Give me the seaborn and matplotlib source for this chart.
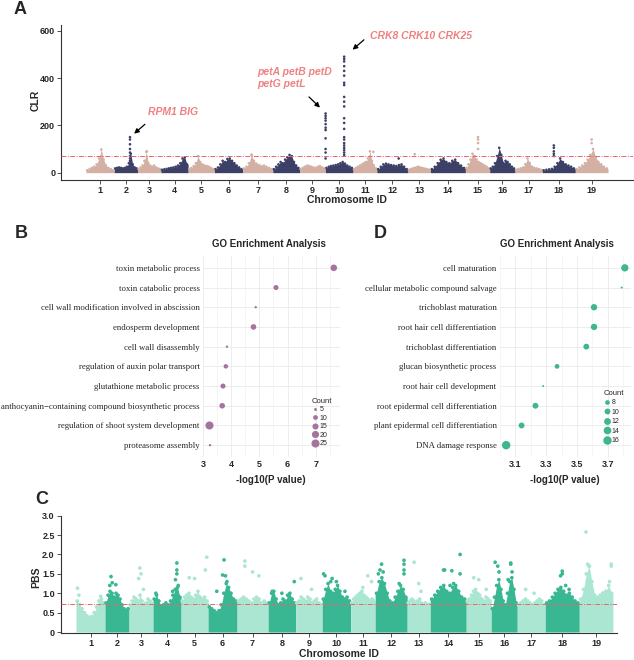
import matplotlib
matplotlib.use("Agg")
import numpy as np
import pandas as pd
import matplotlib.pyplot as plt
from matplotlib.lines import Line2D
from matplotlib.ticker import FixedLocator
import seaborn as sns

# ---------------- data ----------------
chrom_ids = list(range(1, 20))
chrom_len = [29, 24, 24, 28, 27, 29, 31, 27.5, 26.5, 28.5, 24.5, 32, 23, 36, 25, 26, 28, 34, 33.6]

# CLR envelope per chromosome (bins along chromosome)
clr_profile = [
    [10, 15, 20, 25, 35, 60, 98, 55, 30, 20, 15, 10],
    [18, 20, 22, 20, 18, 20, 25, 40, 80, 35, 22, 18],
    [15, 22, 30, 50, 88, 40, 30, 25, 30, 22, 18, 15],
    [12, 14, 16, 18, 20, 22, 25, 30, 40, 60, 65, 35],
    [15, 20, 28, 40, 70, 45, 35, 30, 28, 25, 20, 15],
    [15, 22, 35, 50, 45, 58, 60, 50, 40, 30, 22, 15],
    [18, 25, 40, 75, 50, 38, 32, 28, 30, 25, 20, 15],
    [15, 25, 35, 45, 40, 55, 65, 75, 70, 45, 30, 20],
    [15, 20, 25, 30, 28, 25, 22, 20, 25, 28, 22, 18],
    [20, 25, 28, 30, 32, 35, 40, 45, 38, 30, 25, 20],
    [15, 20, 25, 30, 35, 40, 45, 60, 90, 50, 30, 18],
    [15, 25, 35, 38, 35, 32, 30, 28, 32, 35, 25, 15],
    [12, 15, 18, 20, 22, 25, 22, 20, 18, 16, 14, 12],
    [15, 25, 40, 55, 60, 45, 40, 50, 55, 40, 30, 20],
    [20, 35, 55, 80, 70, 55, 45, 40, 35, 30, 25, 18],
    [18, 25, 40, 70, 105, 75, 40, 50, 45, 35, 25, 18],
    [12, 15, 18, 22, 35, 60, 40, 25, 20, 18, 15, 12],
    [10, 12, 14, 16, 25, 40, 60, 45, 35, 30, 25, 18],
    [15, 22, 30, 40, 55, 75, 100, 65, 45, 35, 25, 18],
]
# CLR outlier points: chromosome, relative position, value
clr_pt_chrom = [2]*8 + [10]*11 + [10]*22 + [15]*4 + [18]*5 + [19]*2 + [3, 11, 13, 7, 12]
clr_pt_rel = ([0.675]*8 + [0.01]*11 + [0.68]*22 + [0.52]*4 + [0.35]*5 + [0.5]*2
              + [0.4, 0.85, 0.3, 0.3, 0.7])
clr_pt_val = ([150, 140, 120, 100, 85, 70, 60, 50]
              + [250, 240, 230, 220, 205, 190, 180, 145, 100, 85, 60]
              + [490, 480, 470, 450, 430, 410, 380, 370, 320, 300, 280, 230, 210, 185,
                 150, 140, 125, 115, 105, 95, 85, 75]
              + [150, 140, 125, 100]
              + [115, 105, 90, 80, 70]
              + [140, 125]
              + [90, 88, 78, 76, 60])
clr_threshold = 72

# PBS envelope per chromosome
pbs_profile = [
    [0.8, 0.7, 0.6, 0.5, 0.42, 0.38, 0.4, 0.5, 0.65, 0.8, 0.85, 0.75],
    [0.75, 0.95, 1.05, 1.0, 0.9, 1.0, 0.95, 0.85, 0.7, 0.6, 0.55, 0.6],
    [0.7, 0.8, 0.9, 0.85, 0.8, 0.95, 0.8, 0.7, 0.75, 0.85, 0.8, 0.75],
    [0.85, 0.95, 0.8, 0.65, 0.7, 0.75, 0.7, 0.8, 0.95, 1.1, 1.15, 0.9],
    [0.8, 0.9, 0.95, 1.0, 0.9, 0.85, 0.95, 1.05, 0.9, 0.85, 0.9, 0.8],
    [0.65, 0.6, 0.55, 0.5, 0.55, 0.7, 1.0, 1.25, 1.15, 1.0, 0.85, 0.8],
    [0.8, 0.85, 0.9, 0.85, 0.8, 0.75, 0.85, 0.9, 0.85, 0.75, 0.8, 0.75],
    [0.75, 1.0, 1.05, 0.85, 0.7, 0.75, 0.85, 0.8, 0.95, 1.0, 0.85, 0.75],
    [0.75, 0.8, 0.9, 0.85, 0.8, 0.9, 0.85, 0.75, 0.8, 0.85, 0.75, 0.7],
    [0.85, 1.1, 1.25, 1.05, 1.0, 1.1, 1.2, 1.05, 0.9, 0.85, 0.9, 0.8],
    [0.75, 0.85, 0.9, 0.95, 1.0, 1.05, 0.95, 0.9, 0.85, 0.8, 0.85, 0.8],
    [1.0, 1.3, 1.4, 1.25, 1.0, 0.8, 0.75, 0.9, 1.05, 1.2, 1.1, 0.9],
    [0.75, 0.8, 0.85, 0.8, 0.75, 0.8, 0.85, 0.75, 0.7, 0.75, 0.7, 0.72],
    [0.85, 0.95, 1.05, 1.15, 1.2, 1.05, 1.0, 1.15, 1.2, 1.05, 0.9, 0.85],
    [0.8, 0.85, 0.95, 1.05, 1.1, 1.0, 0.95, 0.85, 0.8, 0.9, 0.85, 0.8],
    [0.6, 0.9, 1.2, 1.35, 1.1, 0.8, 0.7, 1.0, 1.3, 1.4, 1.1, 0.75],
    [0.7, 0.75, 0.8, 0.85, 0.8, 0.75, 0.7, 0.75, 0.8, 0.85, 0.8, 0.7],
    [0.75, 0.8, 0.9, 1.0, 1.1, 1.15, 1.05, 0.95, 1.0, 0.9, 0.8, 0.75],
    [0.85, 1.1, 1.5, 1.7, 1.3, 0.95, 0.9, 0.95, 1.0, 1.05, 1.2, 1.0],
]
# PBS outlier points
pbs_pt_chrom = ([1]*3 + [2]*4 + [3]*4 + [4]*7 + [5]*4 + [6]*5 + [7]*4 + [8]*3 + [9]*2
                + [10]*6 + [11]*3 + [12]*9 + [13]*3 + [14]*7 + [15]*3 + [16]*7 + [17]*2
                + [18]*5 + [19]*7)
pbs_pt_rel = ([0.05, 0.1, 0.85]
              + [0.25, 0.3, 0.45, 0.2]
              + [0.45, 0.5, 0.4, 0.6]
              + [0.85, 0.85, 0.85, 0.8, 0.7, 0.9, 0.1]
              + [0.95, 0.9, 0.3, 0.5]
              + [0.55, 0.5, 0.6, 0.65, 0.3]
              + [0.25, 0.25, 0.5, 0.7]
              + [0.95, 0.15, 0.5]
              + [0.2, 0.6]
              + [0.05, 0.1, 0.35, 0.3, 0.5, 0.8]
              + [0.7, 0.85, 0.5]
              + [0.2, 0.15, 0.25, 0.1, 0.9, 0.9, 0.9, 0.9, 0.75]
              + [0.3, 0.5, 0.6]
              + [0.37, 0.6, 0.4, 0.83, 0.83, 0.55, 0.65]
              + [0.3, 0.5, 0.8]
              + [0.15, 0.25, 0.3, 0.75, 0.75, 0.8, 0.65]
              + [0.3, 0.6]
              + [0.5, 0.5, 0.45, 0.6, 0.7]
              + [0.2, 0.25, 0.3, 0.95, 0.95, 0.9, 0.7])
pbs_pt_val = ([1.13, 0.95, 0.92]
              + [1.43, 1.27, 1.22, 1.2]
              + [1.65, 1.5, 1.38, 1.1]
              + [1.78, 1.6, 1.5, 1.35, 1.05, 1.2, 1.0]
              + [1.93, 1.6, 1.4, 1.38]
              + [1.86, 1.47, 1.45, 1.3, 1.05]
              + [1.83, 1.7, 1.55, 1.45]
              + [1.3, 1.05, 1.0]
              + [1.38, 1.1]
              + [1.5, 1.45, 1.38, 1.3, 1.3, 1.05]
              + [1.45, 1.3, 1.15]
              + [1.75, 1.6, 1.55, 1.5, 1.85, 1.75, 1.6, 1.5, 1.25]
              + [1.8, 1.25, 1.05]
              + [1.6, 1.58, 1.6, 2.0, 1.5, 1.2, 1.25]
              + [1.4, 1.35, 1.1]
              + [1.8, 1.7, 1.55, 1.78, 1.75, 1.55, 1.35]
              + [1.1, 1.0]
              + [1.57, 1.5, 1.45, 1.2, 1.1]
              + [2.58, 1.75, 1.7, 1.75, 1.7, 1.3, 1.0])
pbs_threshold = 0.72

go_b_terms = ["toxin metabolic process", "toxin catabolic process",
              "cell wall modification involved in abscission", "endosperm development",
              "cell wall disassembly", "regulation of auxin polar transport",
              "glutathione metabolic process",
              "anthocyanin\u2212containing compound biosynthetic process",
              "regulation of shoot system development", "proteasome assembly"]
go_b_logp = [7.64, 5.59, 4.87, 4.79, 3.85, 3.81, 3.71, 3.68, 3.23, 3.25]
go_b_count = [17, 11, 4, 13, 4, 9, 11, 13, 25, 4]
go_b_legend = [5, 10, 15, 20, 25]

go_d_terms = ["cell maturation", "cellular metabolic compound salvage",
              "trichoblast maturation", "root hair cell differentiation",
              "trichoblast differentiation", "glucan biosynthetic process",
              "root hair cell development", "root epidermal cell differentiation",
              "plant epidermal cell differentiation", "DNA damage response"]
go_d_logp = [3.81, 3.79, 3.61, 3.61, 3.56, 3.37, 3.28, 3.23, 3.14, 3.04]
go_d_count = [13, 5, 11, 11, 10, 8, 5, 10, 10, 16]
go_d_legend = [8, 10, 12, 14, 16]

# ---------------- style ----------------
sns.set_theme(style="white")
plt.rcParams['font.family'] = ['Liberation Sans', 'DejaVu Sans']
SERIF = ['Liberation Serif', 'DejaVu Serif']

W, H, DPI = 634, 660, 100
fig = plt.figure(figsize=(W / DPI, H / DPI), dpi=DPI)


def add_ax(left, top, right, bottom):
    return fig.add_axes([left / W, 1 - bottom / H, (right - left) / W, (bottom - top) / H])


def ftext(x, y, s, **kw):
    fig.text(x / W, 1 - y / H, s, transform=fig.transFigure, **kw)


starts = np.concatenate([[0], np.cumsum(chrom_len)[:-1]])
mids = starts + np.array(chrom_len) / 2


def manhattan(ax, profile, pt_chrom, pt_rel, pt_val, colors, pt_size):
    rows = []
    for i, vals in enumerate(profile):
        n = len(vals)
        pos = starts[i] + chrom_len[i] * (np.arange(n) + 0.5) / n
        x = np.r_[starts[i], pos, starts[i] + chrom_len[i]]
        y = np.r_[vals[0], vals, vals[-1]]
        ax.fill_between(x, 0, y, color=colors[i % 2], lw=0, zorder=2)
        for p, v in zip(pos, vals):
            rows.append((p, v, i % 2))
    for c, r, v in zip(pt_chrom, pt_rel, pt_val):
        i = c - 1
        rows.append((starts[i] + chrom_len[i] * r, v, i % 2))
    df = pd.DataFrame(rows, columns=["pos", "value", "shade"])
    sns.scatterplot(data=df, x="pos", y="value", hue="shade",
                    palette={0: colors[0], 1: colors[1]}, s=pt_size, linewidth=0,
                    legend=False, ax=ax, zorder=3)
    for side in ["top", "right"]:
        ax.spines[side].set_visible(False)
    for side in ["left", "bottom"]:
        ax.spines[side].set_color("#333333")
        ax.spines[side].set_linewidth(0.8)
    ax.set_xticks(mids)
    ax.set_xticklabels([str(c) for c in chrom_ids], fontsize=6.5, fontweight="bold")
    ax.tick_params(axis="both", length=3, width=0.6, color="#333333", pad=1.5,
                   labelsize=6.5, bottom=True, left=True)
    for lab in ax.get_yticklabels():
        lab.set_fontweight("bold")
    ax.set_xlabel("")
    ax.set_ylabel("")


# ---------------- Panel A ----------------
axA = add_ax(61.5, 25, 633, 180)
manhattan(axA, clr_profile, clr_pt_chrom, clr_pt_rel, clr_pt_val,
          ["#D3AFA4", "#3C4066"], 3.5)
axA.axhline(clr_threshold, color="#E8646E", lw=0.7, ls=(0, (5, 1.5, 1, 1.5)), zorder=4)
axA.set_xlim(-25.2, 562.3)
axA.set_ylim(-31, 624)
axA.set_yticks([0, 200, 400, 600])
axA.set_yticklabels(["0", "200", "400", "600"], fontsize=6.5, fontweight="bold")
ftext(36, 100, "CLR", rotation=90, ha="center", va="center", fontsize=7.5, fontweight="bold")
ftext(347, 200, "Chromosome ID", ha="center", va="center", fontsize=7.5, fontweight="bold")

ann_kw = dict(color="#F08080", fontsize=7.5, fontweight="bold", style="italic")
ftext(148, 112, "RPM1 BIG", ha="left", va="center", **ann_kw)
ftext(257, 72, "petA petB petD", ha="left", va="center", **ann_kw)
ftext(257, 84, "petG petL", ha="left", va="center", **ann_kw)
ftext(370, 36, "CRK8 CRK10 CRK25", ha="left", va="center", **ann_kw)
arrow = dict(arrowstyle="-|>", color="black", lw=0.9, mutation_scale=7)
for (x0, y0, x1, y1) in [(147, 122.5, 132, 135.5), (307, 95, 322, 109.5), (366, 38, 350.5, 51.5)]:
    axA.annotate("", xy=(x1, H - y1), xytext=(x0, H - y0),
                 xycoords="figure pixels", textcoords="figure pixels", arrowprops=arrow)

# ---------------- Panel C ----------------
axC = add_ax(61, 515.7, 617, 632.8)
manhattan(axC, pbs_profile, pbs_pt_chrom, pbs_pt_rel, pbs_pt_val,
          ["#ABE6D3", "#38B792"], 7)
axC.axhline(pbs_threshold, color="#E8646E", lw=0.7, ls=(0, (5, 1.5, 1, 1.5)), zorder=4)
axC.set_xlim(-15, 540.7)
axC.set_ylim(-0.02, 3.0)
yt = [0, 0.5, 1.0, 1.5, 2.0, 2.5, 3.0]
axC.set_yticks(yt)
axC.set_yticklabels(["0", "0.5", "1.0", "1.5", "2.0", "2.5", "3.0"], fontsize=6.5, fontweight="bold")
ftext(36, 577, "PBS", rotation=90, ha="center", va="center", fontsize=7.5, fontweight="bold")
ftext(339, 654, "Chromosome ID", ha="center", va="center", fontsize=7.5, fontweight="bold")


# ---------------- GO panels ----------------
def go_panel(ax, terms, logp, count, color, xlim, majors, minors, norm, sizes,
             leg_vals, leg_xy, tick_fmt, leg_spacing):
    df = pd.DataFrame({"term": terms, "logp": logp, "count": count,
                       "row": np.arange(len(terms))})
    sns.scatterplot(data=df, x="logp", y="row", size="count", sizes=sizes,
                    size_norm=norm, color=color, linewidth=0, legend=False, ax=ax, zorder=3)
    ax.set_xlim(*xlim)
    ax.set_ylim(len(terms) - 0.4, -0.6)
    ax.set_yticks(df["row"])
    ax.set_yticklabels(terms, fontsize=6.3, family=SERIF)
    ax.set_xticks(majors)
    ax.set_xticklabels([tick_fmt.format(v) for v in majors], fontsize=6.5, fontweight="bold")
    ax.xaxis.set_minor_locator(FixedLocator(minors))
    ax.grid(which="major", color="#EAEAEA", lw=0.6)
    ax.grid(which="minor", axis="x", color="#F2F2F2", lw=0.5)
    ax.set_axisbelow(True)
    for s in ax.spines.values():
        s.set_visible(False)
    ax.tick_params(axis="both", which="both", length=0, pad=2.5)
    ax.set_xlabel("")
    ax.set_ylabel("")
    lo, hi = norm
    handles = []
    for v in leg_vals:
        area = sizes[0] + (v - lo) / (hi - lo) * (sizes[1] - sizes[0])
        handles.append(Line2D([], [], marker="o", ls="", color=color,
                              markersize=np.sqrt(area), markeredgewidth=0))
    leg = fig.legend(handles, [str(v) for v in leg_vals], title="Count",
                     loc="upper left", bbox_to_anchor=(leg_xy[0] / W, 1 - leg_xy[1] / H),
                     frameon=False, fontsize=5, title_fontsize=5.5, handlelength=0.8,
                     handletextpad=0.3, labelspacing=leg_spacing, borderpad=0,
                     borderaxespad=0)
    leg._legend_box.align = "left"


axB = add_ax(203, 256, 340, 457)
go_panel(axB, go_b_terms, go_b_logp, go_b_count, "#A6739F", (3.0, 7.86),
         [3, 4, 5, 6, 7], [3.5, 4.5, 5.5, 6.5, 7.5], (4, 25), (3, 34),
         go_b_legend, (312, 398), "{:g}", 0.2)
ftext(269, 244, "GO Enrichment Analysis", ha="center", va="center", fontsize=7, fontweight="bold")
ftext(271, 480, "-log10(P value)", ha="center", va="center", fontsize=7, fontweight="bold")

axD = add_ax(500, 256, 631, 457)
go_panel(axD, go_d_terms, go_d_logp, go_d_count, "#3FB68E", (3.0, 3.85),
         [3.1, 3.3, 3.5, 3.7], [3.0, 3.2, 3.4, 3.6, 3.8], (5, 16), (2, 37),
         go_d_legend, (604, 390), "{:.1f}", 0.35)
ftext(557, 244, "GO Enrichment Analysis", ha="center", va="center", fontsize=7, fontweight="bold")
ftext(565, 480, "-log10(P value)", ha="center", va="center", fontsize=7, fontweight="bold")

# panel letters
for (x, y, s) in [(20, 10, "A"), (21, 233, "B"), (380, 233, "D"), (42, 500, "C")]:
    ftext(x, y, s, ha="center", va="center", fontsize=13, fontweight="bold")

fig.savefig("out.png", dpi=DPI)
